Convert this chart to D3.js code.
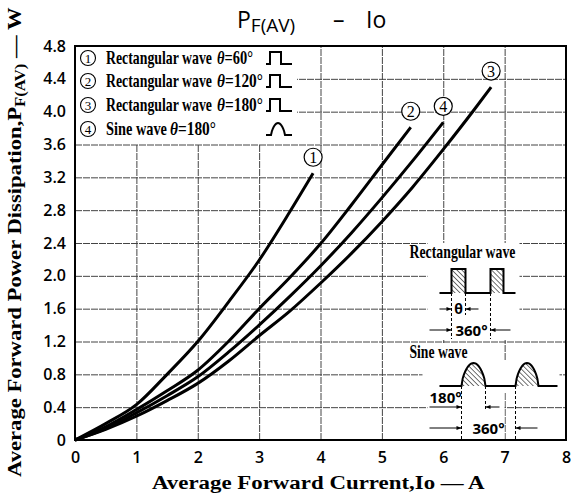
<!DOCTYPE html>
<html><head><meta charset="utf-8">
<script src="https://cdn.jsdelivr.net/npm/d3@7"></script>
<style>body{margin:0;background:#fff}</style>
</head><body>
<svg id="c" width="571" height="498" xmlns="http://www.w3.org/2000/svg"></svg>
<script>
// ---- data ----
const xTicks = [0,1,2,3,4,5,6,7,8];
const yTicks = [0,0.4,0.8,1.2,1.6,2.0,2.4,2.8,3.2,3.6,4.0,4.4,4.8];
const seriesIds = ["1","2","3","4"];
const legendWave = ["Rectangular wave","Rectangular wave","Rectangular wave","Sine wave"];
const legendAngle = ["θ=60°","θ=120°","θ=180°","θ=180°"];
const legendShape = ["rect60","rect120","rect180","sine"];
// curve 1: rectangular 60°
const io1 = [0,0.5,1,1.5,2,2.5,3,3.5,3.88];
const pf1 = [0,0.2,0.43,0.8,1.2,1.68,2.19,2.78,3.25];
// curve 2: rectangular 120°
const io2 = [0,0.5,1,1.5,2,2.5,3,3.5,4,4.5,5,5.47];
const pf2 = [0,0.16,0.37,0.6,0.85,1.2,1.6,1.98,2.39,2.86,3.35,3.81];
// curve 3: rectangular 180°
const io3 = [0,0.5,1,1.5,2,2.5,3,3.5,4,4.5,5,5.5,6,6.5,6.78];
const pf3 = [0,0.13,0.29,0.48,0.69,0.96,1.27,1.57,1.91,2.27,2.66,3.08,3.54,4.02,4.3];
// curve 4: sine 180°
const io4 = [0,0.5,1,1.5,2,2.5,3,3.5,4,4.5,5,5.5,6];
const pf4 = [0,0.14,0.33,0.54,0.77,1.07,1.4,1.75,2.12,2.52,2.95,3.4,3.87];

const series = [
  {id:"1", pts: io1.map((v,i)=>[v,pf1[i]])},
  {id:"2", pts: io2.map((v,i)=>[v,pf2[i]])},
  {id:"3", pts: io3.map((v,i)=>[v,pf3[i]])},
  {id:"4", pts: io4.map((v,i)=>[v,pf4[i]])}
];

// ---- layout ----
const svg = d3.select("#c");
const L=75, R=566, T=46, B=440;
const x = d3.scaleLinear().domain([0,8]).range([L,R]);
const y = d3.scaleLinear().domain([0,4.8]).range([B,T]);
const SERIF = "'Liberation Serif','DejaVu Serif',serif";
const SANS = "'Open Sans','DejaVu Sans',sans-serif";

// condensed text helper: scales horizontally to a target width
function fitText(parent, px, py, target, size, build, rot){
  const t = parent.append("text").attr("font-family",SERIF).attr("font-weight","bold").attr("font-size",size).attr("fill","#000");
  build(t);
  const len = t.node().getComputedTextLength();
  const k = target/len;
  t.attr("transform",`translate(${px},${py})${rot?" rotate("+rot+")":""} scale(${k},1)`);
  return t;
}

const defs = svg.append("defs");
const pat = defs.append("pattern").attr("id","hatch").attr("patternUnits","userSpaceOnUse")
  .attr("width",3.5).attr("height",3.5).attr("patternTransform","rotate(-45)");
pat.append("line").attr("x1",0).attr("y1",0).attr("x2",0).attr("y2",3.5).attr("stroke","#000").attr("stroke-width",1.1);
defs.append("marker").attr("id","arr").attr("viewBox","0 0 10 10").attr("refX",10).attr("refY",5)
  .attr("markerWidth",7).attr("markerHeight",5).attr("orient","auto")
  .append("path").attr("d","M0,1 L10,5 L0,9 z").attr("fill","#000");

// ---- grid ----
const gx = svg.append("g").attr("transform",`translate(0,${B})`)
  .call(d3.axisBottom(x).tickValues(xTicks).tickSize(-(B-T)).tickFormat(""));
gx.select(".domain").remove();
gx.selectAll("line").attr("stroke","#444").attr("stroke-width",1).attr("stroke-dasharray","7,1");
const gy = svg.append("g").attr("transform",`translate(${L},0)`)
  .call(d3.axisLeft(y).tickValues(yTicks).tickSize(-(R-L)).tickFormat(""));
gy.select(".domain").remove();
gy.selectAll("line").attr("stroke","#444").attr("stroke-width",1).attr("stroke-dasharray","7,1");

// ---- white areas behind legend and inset ----
const legX = x(0), legY = y(4.8);
svg.append("rect").attr("x",legX+1).attr("y",legY+1).attr("width",221).attr("height",97).attr("fill","#fff");

const ix = x(5.45), iy = y(2.4);
const whites = [[-3,1,111,18],[18,0,92,97],[-3,100,63,19],[13,117,137,32],[18,149,77,48]];
whites.forEach(w=>svg.append("rect").attr("x",ix+w[0]).attr("y",iy+w[1]).attr("width",w[2]).attr("height",w[3]).attr("fill","#fff"));

// ---- curves ----
const line = d3.line().x(d=>x(d[0])).y(d=>y(d[1])).curve(d3.curveMonotoneX);
svg.append("g").selectAll("path").data(series).join("path")
  .attr("d",d=>line(d.pts)).attr("fill","none").attr("stroke","#000").attr("stroke-width",3);

// ---- frame ----
svg.append("rect").attr("x",L).attr("y",T).attr("width",R-L).attr("height",B-T)
  .attr("fill","none").attr("stroke","#000").attr("stroke-width",2);

// ---- tick labels ----
const ax = svg.append("g").attr("transform",`translate(0,${B})`)
  .call(d3.axisBottom(x).tickValues(xTicks).tickSize(0).tickPadding(12).tickFormat(d3.format("d")));
ax.select(".domain").remove();
ax.selectAll("text").attr("font-family",SANS).attr("font-size",16).attr("font-weight",600).attr("fill","#000");
const ay = svg.append("g").attr("transform",`translate(${L},0)`)
  .call(d3.axisLeft(y).tickValues(yTicks).tickSize(0).tickPadding(9).tickFormat(d=>d===0?"0":d.toFixed(1)));
ay.select(".domain").remove();
ay.selectAll("text").attr("font-family",SANS).attr("font-size",16).attr("font-weight",600).attr("fill","#000");

// ---- titles ----
const tt = svg.append("text").attr("y",28).attr("font-family",SANS).attr("font-size",23).attr("fill","#000");
tt.append("tspan").attr("x",237).text("P");
tt.append("tspan").attr("font-size",19).attr("dy",4).text("F(AV)");
tt.append("tspan").attr("dy",-4).attr("x",333).text("–");
tt.append("tspan").attr("x",366).text("Io");

fitText(svg, 152, 489, 333, 19, t=>t.text("Average Forward Current,Io — A"));

fitText(svg, 21, 477, 470, 19, t=>{
  t.append("tspan").text("Average Forward Power Dissipation,P");
  t.append("tspan").attr("font-size",14).attr("dy",4).text("F(AV)");
  t.append("tspan").attr("dy",-4).text(" — W");
}, -90);

// ---- legend ----
const rowY = [58,81,105,129].map(v=>v-46);
const shapes = {
  rect60:  "M0,0 H4 V-12 H15 V0 H26",
  rect120: "M0,0 H4 V-12 H14 V0 H26",
  rect180: "M0,0 H4 V-12 H14 V0 H26",
  sine: null
};
seriesIds.forEach((id,i)=>{
  const cy = legY + rowY[i];
  svg.append("circle").attr("cx",legX+13).attr("cy",cy).attr("r",7.5).attr("fill","#fff").attr("stroke","#000").attr("stroke-width",1.1);
  svg.append("text").attr("x",legX+13).attr("y",cy+4.5).attr("text-anchor","middle")
    .attr("font-family",SERIF).attr("font-size",13).text(id);
  fitText(svg, legX+31, cy+6, i<3?106:61, 18, t=>t.text(legendWave[i]));
  const ax0 = i<3 ? legX+142 : legX+95;
  fitText(svg, ax0, cy+6, i===0?36:46, 18, t=>{
    t.append("tspan").attr("font-style","italic").text(legendAngle[i].slice(0,1));
    t.append("tspan").text(legendAngle[i].slice(1));
  });
  const sx = legX+191, sy = cy+6;
  let d = shapes[legendShape[i]];
  if(!d){
    const pts=[[0,0],[5,0]];
    for(let k=0;k<=16;k++){const a=Math.PI*k/16; pts.push([5+14*k/16, -12*Math.pow(Math.sin(a),0.7)]);}
    pts.push([26,0]);
    d = d3.line()(pts);
  }
  svg.append("path").attr("d",d).attr("transform",`translate(${sx},${sy})`).attr("fill","none")
    .attr("stroke","#000").attr("stroke-width",2);
});

// ---- curve end labels ----
series.forEach(s=>{
  const e = s.pts[s.pts.length-1];
  const cx = x(e[0]), cy = y(e[1]) - 16;
  svg.append("circle").attr("cx",cx).attr("cy",cy).attr("r",9).attr("fill","#fff").attr("stroke","#000").attr("stroke-width",1.2);
  svg.append("text").attr("x",cx).attr("y",cy+5.5).attr("text-anchor","middle")
    .attr("font-family",SERIF).attr("font-size",16).text(s.id);
});

// ---- inset: waveforms ----
const g = svg.append("g").attr("transform",`translate(${ix},${iy})`);
const txt = (gx,gy,s,opt)=>{const t=g.append("text").attr("x",gx).attr("y",gy).text(s).attr("fill","#000");
  Object.entries(opt).forEach(([k,v])=>t.attr(k,v)); return t;};
fitText(g, 0, 15, 106, 18, t=>t.text("Rectangular wave"));
g.append("rect").attr("x",42).attr("y",26).attr("width",14).attr("height",24).attr("fill","url(#hatch)");
g.append("rect").attr("x",81).attr("y",26).attr("width",13).attr("height",24).attr("fill","url(#hatch)");
g.append("path").attr("d","M30,50 H42 V26 H56 V50 H81 V26 H94 V50 H106").attr("fill","none").attr("stroke","#000").attr("stroke-width",2);
const seg=(x1,y1,x2,y2,opt={})=>{const l=g.append("line").attr("x1",x1).attr("y1",y1).attr("x2",x2).attr("y2",y2).attr("stroke","#000").attr("stroke-width",1);
  Object.entries(opt).forEach(([k,v])=>l.attr(k,v)); return l;};
const dash={"stroke-dasharray":"3,2"};
seg(42,50,42,96,dash); seg(56,50,56,72,dash); seg(81,50,81,96,dash);
seg(30,66,42,66,{"marker-end":"url(#arr)"}); seg(69,66,56,66,{"marker-end":"url(#arr)"});
txt(49,71,"θ",{"font-family":SANS,"font-weight":"bold","font-size":14,"text-anchor":"middle"});
seg(20,87,42,87,{"marker-end":"url(#arr)"}); seg(101,87,81,87,{"marker-end":"url(#arr)"});
txt(62,93,"360°",{"font-family":SANS,"font-weight":"bold","font-size":15,"text-anchor":"middle"});

fitText(g, 0, 115, 58, 18, t=>t.text("Sine wave"));
const bump = (a,b)=>{const p=[];for(let k=0;k<=20;k++){const t=k/20; p.push([a+(b-a)*t, 143-23*Math.pow(Math.sin(Math.PI*t),0.6)]);} return p;};
const b1=bump(52,76), b2=bump(106,129);
g.append("path").attr("d",d3.line()(b1)+"Z").attr("fill","url(#hatch)");
g.append("path").attr("d",d3.line()(b2)+"Z").attr("fill","url(#hatch)");
g.append("path").attr("d",d3.line()([[30,143],...b1,...b2,[148,143]])).attr("fill","none").attr("stroke","#000").attr("stroke-width",2);
seg(52,143,52,197,dash); seg(76,143,76,166,dash); seg(106,143,106,197,dash);
txt(20,160,"180°",{"font-family":SANS,"font-weight":"bold","font-size":15});
seg(20,164,52,164,{"marker-end":"url(#arr)"}); seg(90,164,76,164,{"marker-end":"url(#arr)"});
seg(20,185,52,185,{"marker-end":"url(#arr)"}); seg(128,185,106,185,{"marker-end":"url(#arr)"});
txt(79,191,"360°",{"font-family":SANS,"font-weight":"bold","font-size":15,"text-anchor":"middle"});
</script>
</body></html>
